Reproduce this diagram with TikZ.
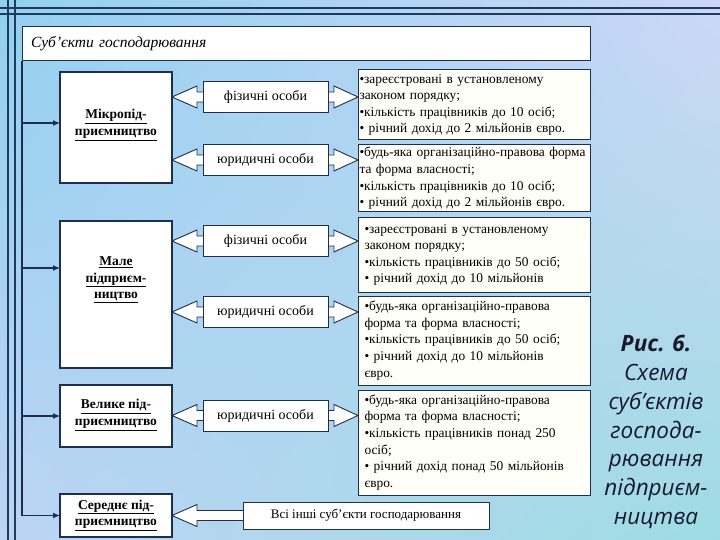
\documentclass[tikz,border=0pt]{standalone}
\usepackage{fontspec}
\setmainfont{Liberation Serif}
\newfontfamily\capfont{Open Sans}
\usetikzlibrary{arrows.meta,calc,shadings}
\definecolor{navy}{HTML}{1F2E4E}
\definecolor{decoline}{HTML}{1E3A5C}
\definecolor{bgUL}{HTML}{92D0F0}
\definecolor{bgUR}{HTML}{CDD7F7}
\definecolor{bgLL}{HTML}{BDD4F4}
\definecolor{bgLR}{HTML}{9EDCE3}
\definecolor{cream}{HTML}{FFFFFA}
\definecolor{captext}{HTML}{161A2C}
\tikzset{
 lbox/.style={draw=navy, line width=1.3pt, fill=white, minimum width=112pt, inner sep=0pt, outer sep=0pt},
 ltext/.style={align=center, font=\fontsize{13.5}{16.5}\selectfont\bfseries},
 labbox/.style={draw=navy, line width=1pt, fill=white, minimum width=125pt, minimum height=31pt, inner sep=0pt, outer sep=0pt, font=\fontsize{14}{16}\selectfont},
 critbox/.style={draw=navy, line width=1pt, fill=cream, minimum width=232pt, text width=229pt, inner xsep=1.5pt, inner ysep=0pt, outer sep=0pt, align=left, font=\fontsize{13.4}{16.6}\selectfont},
 titlebox/.style={draw=navy, line width=1pt, fill=white, minimum width=568pt, minimum height=34pt, text width=550pt, inner xsep=9pt, inner ysep=0pt, outer sep=0pt, align=left, font=\fontsize{15.5}{17}\selectfont\itshape},
 blockarrow/.style={draw=navy, line width=0.9pt, fill=white, line join=miter},
 conn/.style={draw=navy, line width=1.2pt, -{Latex[length=7pt,width=6pt]}},
 decostyle/.style={draw=decoline, line width=2pt},
 capstyle/.style={align=center, text=captext, font=\capfont\itshape\fontsize{22.5}{28.8}\selectfont},
}
\newcommand{\dblarr}[3]{%
 \path (#1.east |- #2) coordinate (pA) (#3.west |- #2) coordinate (pB);
 \draw[blockarrow] (pA) -- ++(25,-11) -- ++(0,6) -- ($(pB)+(-24,-5)$) -- ++(0,-6) -- (pB)
   -- ++(-24,11) -- ++(0,-6) -- ($(pA)+(25,5)$) -- ++(0,6) -- cycle;}
\begin{document}
\begin{tikzpicture}[x=1pt,y=-1pt]
\useasboundingbox (0,0) rectangle (720,540);
\shade[upper left=bgUL, upper right=bgUR, lower left=bgLL, lower right=bgLR] (0,0) rectangle (720,540);
\draw[decostyle] (0,8.5) -- (720,8.5);
\draw[decostyle] (0,14.5) -- (720,14.5);
\draw[decostyle] (8,0) -- (8,540);
\draw[decostyle] (15,0) -- (15,540);

\node[titlebox] (title) at (306,44) {Суб’єкти господарювання};

% left boxes
\node[lbox, minimum height=111pt] (micro) at (116,127.5) {};
\node[ltext] at (116,125) {\underline{Мікропід-}\\\underline{приємництво}};
\node[lbox, minimum height=147pt] (male) at (116,294.5) {};
\node[ltext] at (116,280) {\underline{Мале}\\\underline{підприєм-}\\\underline{ництво}};
\node[lbox, minimum height=62pt] (velyke) at (116,416) {};
\node[ltext] at (116,415) {\underline{Велике під-}\\\underline{приємництво}};
\node[lbox, minimum height=43pt] (sered) at (116,515.5) {};
\node[ltext] at (116,515) {\underline{Середнє під-}\\\underline{приємництво}};

% criteria boxes
\node[critbox, minimum height=70pt] (c1) at (474,105) {•зареєстровані в установленому\\законом порядку;\\•кількість працівників до 10 осіб;\\• річний дохід до 2 мільйонів євро.};
\node[critbox, minimum height=67pt] (c2) at (474,178.5) {•будь-яка організаційно-правова форма\\та форма власності;\\•кількість працівників до 10 осіб;\\• річний дохід до 2 мільйонів євро.};
\node[critbox, minimum height=74pt] (c3) at (474,255) {\hspace*{5pt}•зареєстровані в установленому\\\hspace*{5pt}законом порядку;\\\hspace*{5pt}•кількість працівників до 50 осіб;\\\hspace*{5pt}• річний дохід до 10 мільйонів};
\node[critbox, minimum height=89pt] (c4) at (474,340.5) {\hspace*{5pt}•будь-яка організаційно-правова\\\hspace*{5pt}форма та форма власності;\\\hspace*{5pt}•кількість працівників до 50 осіб;\\\hspace*{5pt}• річний дохід до 10 мільйонів\\\hspace*{5pt}євро.};
\node[critbox, minimum height=105pt] (c5) at (474,442.5) {\hspace*{5pt}•будь-яка організаційно-правова\\\hspace*{5pt}форма та форма власності;\\\hspace*{5pt}•кількість працівників понад 250\\\hspace*{5pt}осіб;\\\hspace*{5pt}• річний дохід понад 50 мільйонів\\\hspace*{5pt}євро.};

% label positions and double block arrows
\coordinate (f1) at (265.5,97);
\coordinate (y1) at (265.5,160);
\coordinate (f2) at (265.5,241);
\coordinate (y2) at (265.5,312);
\coordinate (y3) at (265.5,415.5);
\dblarr{micro}{f1}{c1}
\dblarr{micro}{y1}{c2}
\dblarr{male}{f2}{c3}
\dblarr{male}{y2}{c4}
\dblarr{velyke}{y3}{c5}
\node[labbox] (fiz1) at (f1) {фізичні особи};
\node[labbox] (yur1) at (y1) {юридичні особи};
\node[labbox] (fiz2) at (f2) {фізичні особи};
\node[labbox] (yur2) at (y2) {юридичні особи};
\node[labbox] (yur3) at (y3) {юридичні особи};

% all others
\coordinate (vsiC) at (366,515.5);
\coordinate (vsiW) at (243,515.5);
\path (sered.east |- vsiC) coordinate (pS);
\draw[blockarrow] (pS) -- ++(25,-11) -- ++(0,6) -- ($(vsiW)+(1,-5)$) -- ($(vsiW)+(1,5)$) -- ($(pS)+(25,5)$) -- ++(0,6) -- cycle;
\node[draw=navy, line width=1pt, fill=white, minimum width=246pt, minimum height=27pt, inner sep=0pt, outer sep=0pt, font=\fontsize{13}{15}\selectfont] (vsi) at (vsiC) {Всі інші суб'єкти господарювання};

% left connectors
\draw[navy, line width=1.2pt] (title.south west) -- (title.south west |- sered.west);
\coordinate (microIn) at ($(micro.north west)+(0,51)$);
\coordinate (maleIn) at ($(male.north west)+(0,47)$);
\draw[conn] (title.south west |- microIn) -- (microIn);
\draw[conn] (title.south west |- maleIn) -- (maleIn);
\draw[conn] (title.south west |- velyke.west) -- (velyke.west);
\draw[conn] (title.south west |- sered.west) -- (sered.west);

% caption
\node[capstyle] (cap) at (656,432) {\bfseries Рис. 6.\\Схема\\суб’єктів\\господа-\\рювання\\підприєм-\\ництва};
\end{tikzpicture}
\end{document}
